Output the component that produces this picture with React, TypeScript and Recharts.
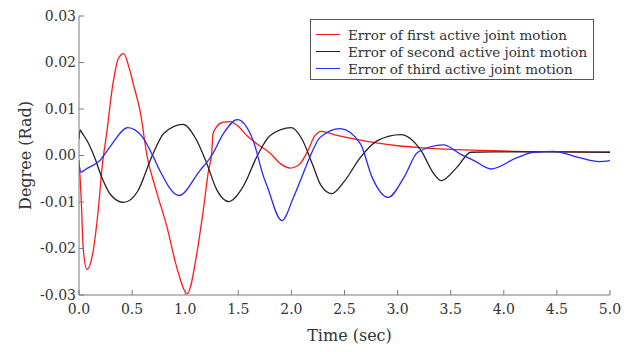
import { Legend, Line, LineChart, XAxis, YAxis } from "recharts";

// time (sec), error (rad)
const FIRST_T = [0, 0.02, 0.04, 0.075, 0.13, 0.18, 0.22, 0.26, 0.32, 0.37, 0.42, 0.47, 0.51, 0.58, 0.64, 0.72, 0.83, 0.92, 1.02, 1.11, 1.17, 1.22, 1.25, 1.26, 1.29, 1.35, 1.42, 1.5, 1.58, 1.67, 1.8, 1.9, 1.99, 2.08, 2.15, 2.22, 2.28, 2.4, 2.6, 2.8, 3.0, 3.2, 3.5, 3.8, 4.1, 4.5, 5.0];
const FIRST_V = [-0.001, -0.009, -0.02, -0.0245, -0.021, -0.012, -0.002, 0.0047, 0.0155, 0.0208, 0.0219, 0.019, 0.0155, 0.009, 0.0, -0.007, -0.0155, -0.024, -0.0297, -0.021, -0.0118, -0.0032, 0.0005, 0.0045, 0.006, 0.0071, 0.0073, 0.0063, 0.0043, 0.0026, 0.0005, -0.0018, -0.0027, -0.0018, 0.0008, 0.0042, 0.0052, 0.0045, 0.0035, 0.0027, 0.0021, 0.0017, 0.0013, 0.0011, 0.0009, 0.0008, 0.0007];

const SECOND_T = [0, 0.01, 0.03, 0.08, 0.14, 0.22, 0.3, 0.42, 0.55, 0.69, 0.8, 0.98, 1.1, 1.2, 1.3, 1.41, 1.55, 1.68, 1.8, 2.0, 2.1, 2.2, 2.28, 2.38, 2.5, 2.65, 2.81, 3.03, 3.22, 3.34, 3.41, 3.56, 3.69, 3.9, 4.2, 4.6, 5.0];
const SECOND_V = [0.0035, 0.0055, 0.0048, 0.003, 0.0, -0.005, -0.0085, -0.0101, -0.0078, 0.0, 0.0048, 0.0067, 0.0036, -0.0015, -0.0075, -0.0099, -0.0065, 0.0, 0.0043, 0.006, 0.0035, -0.002, -0.0065, -0.0082, -0.0055, -0.0004, 0.0032, 0.0045, 0.0011, -0.0039, -0.0054, -0.0025, 0.0007, 0.0008, 0.0008, 0.0008, 0.0007];

const THIRD_T = [0, 0.02, 0.06, 0.2, 0.29, 0.46, 0.6, 0.7, 0.76, 0.94, 1.14, 1.25, 1.36, 1.49, 1.64, 1.74, 1.77, 1.91, 2.02, 2.1, 2.18, 2.27, 2.46, 2.65, 2.76, 2.91, 3.06, 3.19, 3.43, 3.6, 3.72, 3.88, 4.13, 4.28, 4.47, 4.7, 4.9, 5.0];
const THIRD_V = [-0.002, -0.0036, -0.003, -0.001, 0.0018, 0.006, 0.0039, -0.0003, -0.0032, -0.0086, -0.0032, 0.0, 0.0047, 0.0077, 0.0032, -0.0047, -0.0065, -0.014, -0.009, -0.0045, 0.0, 0.0039, 0.0058, 0.0025, -0.0047, -0.009, -0.0047, 0.0007, 0.0023, 0.0002, -0.0011, -0.0029, -0.0004, 0.0007, 0.0009, -0.0004, -0.0013, -0.0011];

const X_TICKS = [0, 0.5, 1, 1.5, 2, 2.5, 3, 3.5, 4, 4.5, 5];
const Y_TICKS = [-0.03, -0.02, -0.01, 0, 0.01, 0.02, 0.03];

const SERIES = [
  { name: "Error of first active joint motion", color: "#ff1a1a", t: FIRST_T, v: FIRST_V },
  { name: "Error of second active joint motion", color: "#222222", t: SECOND_T, v: SECOND_V },
  { name: "Error of third active joint motion", color: "#2626ff", t: THIRD_T, v: THIRD_V },
];

const FONT = "'DejaVu Serif', 'Liberation Serif', serif";
const AXIS = "#7a7a7a";
const TEXT = "#333333";

function LegendBox() {
  return (
    <div
      style={{
        border: "1px solid #555",
        background: "#fff",
        width: 284,
        height: 61,
        boxSizing: "border-box",
        padding: "6px 0 0 5px",
        fontFamily: FONT,
        fontSize: 13.5,
        color: TEXT,
      }}
    >
      {SERIES.map((s) => (
        <div key={s.name} style={{ display: "flex", alignItems: "center", height: 17 }}>
          <span style={{ display: "inline-block", width: 24, height: 0, borderTop: `1.5px solid ${s.color}`, marginRight: 8 }} />
          <span style={{ whiteSpace: "nowrap" }}>{s.name}</span>
        </div>
      ))}
    </div>
  );
}

export default function App() {
  return (
    <div style={{ position: "fixed", left: 0, top: 0, width: 638, height: 352, background: "#fff" }}>
      <LineChart width={638} height={352} margin={{ top: 16, right: 28, bottom: 0, left: 0 }}>
        <XAxis
          type="number"
          dataKey="t"
          domain={[0, 5]}
          ticks={X_TICKS}
          allowDataOverflow
          height={57}
          stroke={AXIS}
          tickSize={-5}
          tickMargin={14}
          tickFormatter={(v) => Number(v).toFixed(1)}
          tick={{ fontFamily: FONT, fontSize: 14, fill: TEXT }}
          label={{
            content: ({ viewBox }: any) => (
              <text x={viewBox.x + viewBox.width / 2 + 5} y={341} textAnchor="middle" fontFamily={FONT} fontSize={16} fill={TEXT}>
                Time (sec)
              </text>
            ),
          }}
        />
        <YAxis
          type="number"
          domain={[-0.03, 0.03]}
          ticks={Y_TICKS}
          allowDataOverflow
          width={79}
          stroke={AXIS}
          tickSize={-5}
          tickMargin={8}
          tickFormatter={(v) => Number(v).toFixed(2)}
          tick={{ fontFamily: FONT, fontSize: 14, fill: TEXT }}
          label={{
            content: ({ viewBox }: any) => {
              const cy = viewBox.y + viewBox.height / 2;
              return (
                <text x={25} y={cy} transform={`rotate(-90, 25, ${cy})`} textAnchor="middle" dominantBaseline="central" fontFamily={FONT} fontSize={16} fill={TEXT}>
                  Degree (Rad)
                </text>
              );
            },
          }}
        />
        <Legend
          layout="vertical"
          verticalAlign="middle"
          align="center"
          wrapperStyle={{ left: 310, top: 19, width: 284 }}
          content={() => <LegendBox />}
        />
        {SERIES.map((s) => (
          <Line
            key={s.name}
            data={s.t.map((t, i) => ({ t, v: s.v[i] }))}
            dataKey="v"
            name={s.name}
            type="monotone"
            stroke={s.color}
            strokeWidth={1.3}
            dot={false}
            activeDot={false}
            isAnimationActive={false}
          />
        ))}
      </LineChart>
    </div>
  );
}
